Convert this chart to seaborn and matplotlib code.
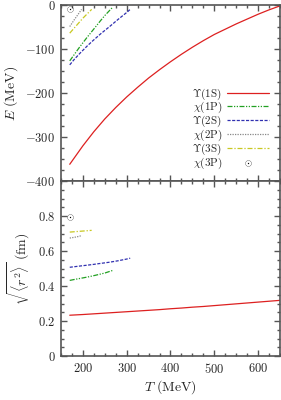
import matplotlib
matplotlib.use('Agg')
import matplotlib.pyplot as plt
import seaborn as sns
from matplotlib.ticker import MultipleLocator, FuncFormatter

# temperature grids (MeV) and values
T_1S = [170, 200, 225, 250, 275, 300, 325, 350, 375, 400, 425, 450, 475, 500,
        525, 550, 575, 600, 625, 650]
E_1S = [-362, -320, -288, -259, -233, -209, -187, -166, -147, -129, -112, -96,
        -81, -67, -55, -43, -32, -21, -11, -2]
R_1S = [0.233, 0.237, 0.241, 0.245, 0.249, 0.253, 0.257, 0.261, 0.265, 0.270,
        0.274, 0.279, 0.283, 0.288, 0.293, 0.298, 0.303, 0.308, 0.313, 0.318]

T_1P = [170, 180, 193, 210, 223, 240, 250, 268]
E_1P = [-127, -113, -95, -73, -57, -36, -24, -5]
R_1P = [0.432, 0.437, 0.443, 0.451, 0.458, 0.468, 0.474, 0.489]

T_2S = [170, 180, 193, 210, 223, 240, 261, 280, 300, 308]
E_2S = [-136, -124, -110, -93, -81, -66, -49, -33, -17, -10]
R_2S = [0.507, 0.510, 0.514, 0.519, 0.523, 0.529, 0.536, 0.544, 0.554, 0.559]

T_2P = [170, 180, 190, 197]
E_2P = [-49, -34, -20, -10]
R_2P = [0.674, 0.678, 0.683, 0.688]

T_3S = [170, 185, 200, 220]
E_3S = [-64, -47, -30, -10]
R_3S = [0.708, 0.711, 0.714, 0.718]

T_3P = [170]
E_3P = [-9]
R_3P = [0.795]

labels = [r'$\Upsilon(1\mathrm{S})$', r'$\chi(1\mathrm{P})$', r'$\Upsilon(2\mathrm{S})$',
          r'$\chi(2\mathrm{P})$', r'$\Upsilon(3\mathrm{S})$', r'$\chi(3\mathrm{P})$']

sns.set_style('ticks')
plt.rcParams['font.family'] = ['DejaVu Serif']
plt.rcParams['mathtext.fontset'] = 'cm'
plt.rcParams['xtick.direction'] = 'in'
plt.rcParams['ytick.direction'] = 'in'

fig = plt.figure(figsize=(2.81, 4.0), dpi=100)
ax1 = fig.add_axes([0.217, 0.5475, 0.7795, 0.44])
ax2 = fig.add_axes([0.217, 0.11, 0.7795, 0.4375], sharex=ax1)

styles = [
    dict(color='#dd2020', linestyle='-'),
    dict(color='#22a022', linestyle=(0, (4, 1.2, 1, 1.2, 1, 1.2))),
    dict(color='#3030b0', linestyle=(0, (2.5, 1.2))),
    dict(color='#888888', linestyle=(0, (1, 1))),
    dict(color='#c8c820', linestyle=(0, (4, 1.5, 1, 1.5))),
]
series = [(T_1S, E_1S, R_1S), (T_1P, E_1P, R_1P), (T_2S, E_2S, R_2S),
          (T_2P, E_2P, R_2P), (T_3S, E_3S, R_3S)]

for (t, e, r), st, lab in zip(series, styles, labels):
    sns.lineplot(x=t, y=e, ax=ax1, lw=0.9, label=lab, **st)
    sns.lineplot(x=t, y=r, ax=ax2, lw=0.9, **st)

sns.scatterplot(x=T_3P, y=E_3P, ax=ax1, marker=r'$\odot$', s=20, color='black',
                linewidth=0, label=labels[5])
sns.scatterplot(x=T_3P, y=R_3P, ax=ax2, marker=r'$\odot$', s=20, color='black',
                linewidth=0)

mfmt = FuncFormatter(lambda v, p: r'$\mathrm{%g}$' % v)

ax1.set_xlim(150, 650)
ax1.set_ylim(-400, 0)
ax2.set_ylim(0, 1)

ax1.yaxis.set_major_locator(MultipleLocator(100))
ax1.yaxis.set_minor_locator(MultipleLocator(25))
ax2.yaxis.set_major_locator(MultipleLocator(0.2))
ax2.yaxis.set_minor_locator(MultipleLocator(0.05))
ax2.xaxis.set_major_locator(MultipleLocator(100))
ax2.xaxis.set_minor_locator(MultipleLocator(25))
ax1.yaxis.set_major_formatter(mfmt)
ax2.yaxis.set_major_formatter(FuncFormatter(lambda v, p: '' if v > 0.9 else r'$\mathrm{%g}$' % round(v, 1)))
ax2.xaxis.set_major_formatter(mfmt)
ax1.tick_params(labelbottom=False)

for ax in (ax1, ax2):
    for s in ax.spines.values():
        s.set_color('#555555')
        s.set_linewidth(1.2)
    ax.tick_params(which='both', top=True, right=True, color='#555555',
                   labelsize=9, width=1.0)
    ax.tick_params(which='major', length=4.5, pad=4)
    ax.tick_params(which='minor', length=2.5)

ax1.set_ylabel(r'$E\ (\mathrm{MeV})$', fontsize=10, labelpad=4)
ax2.set_ylabel(r'$\sqrt{\langle r^2\rangle}\ (\mathrm{fm})$', fontsize=10, labelpad=4)
ax2.set_xlabel(r'$T\ (\mathrm{MeV})$', fontsize=10, labelpad=2)
ax1.set_xlabel('')

if ax2.get_legend():
    ax2.get_legend().remove()
ax1.legend(loc='lower right', bbox_to_anchor=(0.97, 0.03), frameon=False,
           markerfirst=False, fontsize=8, handlelength=3.8, handletextpad=0.4,
           labelspacing=-0.12, borderaxespad=0.0)

plt.savefig('out.png', dpi=100)
